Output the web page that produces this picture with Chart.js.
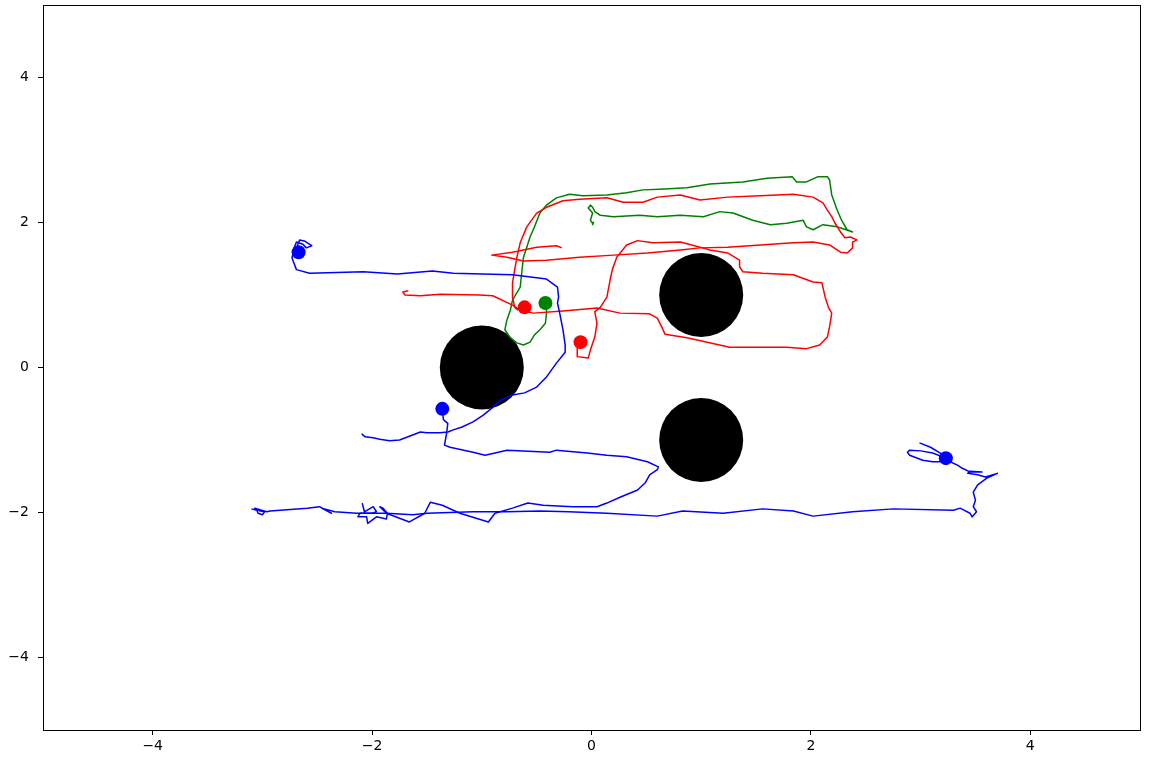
<!DOCTYPE html>
<html>
<head>
<meta charset="utf-8">
<script src="https://cdn.jsdelivr.net/npm/chart.js@4"></script>
<style>
  html, body { margin: 0; padding: 0; background: #fff; }
  canvas { display: block; }
</style>
</head>
<body>
<canvas id="trajChart" width="1150" height="766" style="width:1150px;height:766px"></canvas>
<script>
// axis ticks
const tickValues = [-4, -2, 0, 2, 4];

// obstacles (drawn as big markers)
const obstacles = [[-1, 0], [1, 1], [1, -1]];

// current positions
const blueDots = [[-2.67, 1.59], [-1.36, -0.57], [3.23, -1.25]];
const redDots = [[-0.61, 0.83], [-0.10, 0.35]];
const greenDots = [[-0.42, 0.89]];

// blue robot paths
const bluePathA = [[-2.67, 1.59], [-2.68, 1.69], [-2.66, 1.76], [-2.61, 1.74], [-2.59, 1.72], [-2.55, 1.68],
  [-2.60, 1.65], [-2.63, 1.70], [-2.69, 1.73], [-2.71, 1.65], [-2.73, 1.51], [-2.69, 1.35], [-2.57, 1.30],
  [-2.08, 1.32], [-1.77, 1.29], [-1.45, 1.33], [-1.26, 1.30], [-0.72, 1.28], [-0.41, 1.22], [-0.31, 1.11],
  [-0.30, 0.97], [-0.31, 0.89], [-0.29, 0.75], [-0.26, 0.52], [-0.24, 0.31], [-0.24, 0.21], [-0.32, 0.06],
  [-0.41, -0.13], [-0.50, -0.27], [-0.61, -0.35], [-0.72, -0.38], [-0.83, -0.45], [-0.90, -0.55],
  [-0.99, -0.66], [-1.08, -0.75], [-1.18, -0.82], [-1.26, -0.86], [-1.31, -0.89], [-1.38, -0.90],
  [-1.50, -0.90], [-1.56, -0.89], [-1.63, -0.93], [-1.75, -1.00], [-1.84, -1.01], [-1.93, -0.99],
  [-1.99, -0.97], [-2.05, -0.96], [-2.08, -0.94], [-2.09, -0.92], [-2.06, -0.96]];

const bluePathB = [[-1.36, -0.57], [-1.35, -0.72], [-1.31, -0.77], [-1.32, -0.90], [-1.34, -1.07],
  [-1.29, -1.10], [-1.08, -1.17], [-0.97, -1.21], [-0.77, -1.14], [-0.38, -1.17], [-0.32, -1.14],
  [-0.04, -1.18], [0.14, -1.21], [0.32, -1.23], [0.51, -1.30], [0.61, -1.37], [0.60, -1.41], [0.53, -1.48],
  [0.49, -1.59], [0.42, -1.69], [0.26, -1.79], [0.14, -1.87], [0.05, -1.92], [-0.17, -1.92], [-0.44, -1.90],
  [-0.58, -1.87], [-0.72, -1.94], [-0.88, -2.01], [-0.94, -2.13], [-1.20, -2.01], [-1.36, -1.90],
  [-1.47, -1.86], [-1.52, -2.01], [-1.66, -2.13], [-1.87, -2.01], [-1.93, -1.92], [-1.90, -1.94],
  [-1.86, -2.01], [-1.87, -2.09], [-1.96, -2.06], [-2.04, -2.15], [-2.05, -2.06], [-2.13, -2.06],
  [-2.11, -2.01], [-2.00, -2.01], [-1.96, -1.99], [-1.99, -1.92], [-2.07, -1.99], [-2.09, -1.87]];

const bluePathC = [[2.99, -1.04], [3.09, -1.10], [3.18, -1.18], [3.23, -1.25], [3.11, -1.18], [3.00, -1.15],
  [2.90, -1.14], [2.88, -1.17], [2.90, -1.21], [3.02, -1.28], [3.11, -1.30], [3.22, -1.30], [3.27, -1.30],
  [3.34, -1.35], [3.38, -1.39], [3.45, -1.44], [3.56, -1.44], [3.45, -1.43], [3.43, -1.46], [3.52, -1.48],
  [3.59, -1.51], [3.70, -1.46], [3.61, -1.52], [3.52, -1.62], [3.48, -1.72], [3.50, -1.83], [3.48, -1.92],
  [3.51, -1.99], [3.47, -2.06], [3.45, -2.01], [3.36, -1.94], [3.30, -1.97], [2.75, -1.95], [2.38, -1.99],
  [2.02, -2.05], [1.84, -1.98], [1.56, -1.95], [1.20, -2.01], [0.83, -1.98], [0.60, -2.05], [0.14, -2.01],
  [-0.21, -1.99], [-0.47, -1.98], [-0.77, -1.99], [-1.08, -1.99], [-1.50, -2.01], [-1.63, -2.03],
  [-1.87, -2.01], [-2.14, -2.01], [-2.34, -1.99], [-2.46, -1.94], [-2.37, -2.01], [-2.48, -1.92],
  [-2.59, -1.94], [-2.93, -1.98], [-2.96, -1.99], [-3.07, -1.94], [-3.02, -1.98], [-2.98, -1.99],
  [-3.00, -2.03], [-3.04, -2.01], [-3.05, -1.97], [-3.10, -1.95]];

// red robot paths
const redPathA = [[-0.10, 0.35], [-0.13, 0.28], [-0.13, 0.15], [-0.03, 0.13], [-0.01, 0.24], [0.03, 0.42],
  [0.05, 0.61], [0.03, 0.77], [0.08, 0.83], [0.14, 0.97], [0.17, 1.21], [0.19, 1.35], [0.23, 1.52],
  [0.32, 1.69], [0.42, 1.75], [0.56, 1.72], [0.81, 1.73], [0.99, 1.66], [1.08, 1.62], [1.24, 1.58],
  [1.35, 1.48], [1.35, 1.39], [1.38, 1.32], [1.56, 1.30], [1.84, 1.28], [2.02, 1.18], [2.10, 1.17],
  [2.13, 0.97], [2.16, 0.83], [2.19, 0.75], [2.17, 0.56], [2.15, 0.42], [2.08, 0.31], [1.96, 0.26],
  [1.78, 0.28], [1.63, 0.28], [1.26, 0.28], [0.87, 0.41], [0.67, 0.46], [0.64, 0.56], [0.60, 0.68],
  [0.53, 0.74], [0.26, 0.75], [0.05, 0.82], [-0.26, 0.78], [-0.53, 0.75], [-0.65, 0.79], [-0.72, 0.86],
  [-0.90, 0.99], [-1.02, 1.00], [-1.38, 1.01], [-1.56, 0.99], [-1.70, 1.00], [-1.72, 1.04], [-1.67, 1.06]];

const redPathB = [[-0.67, 0.79], [-0.70, 0.83], [-0.72, 0.97], [-0.72, 1.17], [-0.70, 1.35], [-0.68, 1.52],
  [-0.65, 1.72], [-0.59, 1.94], [-0.50, 2.13], [-0.41, 2.21], [-0.26, 2.30], [-0.11, 2.32], [0.14, 2.34],
  [0.29, 2.28], [0.47, 2.28], [0.60, 2.35], [0.81, 2.38], [0.99, 2.31], [1.24, 2.35], [1.54, 2.37],
  [1.84, 2.39], [2.02, 2.35], [2.11, 2.27], [2.15, 2.17], [2.19, 2.08], [2.22, 1.99], [2.27, 1.87],
  [2.31, 1.79], [2.36, 1.80], [2.42, 1.76], [2.38, 1.73], [2.38, 1.65], [2.33, 1.58], [2.27, 1.59],
  [2.17, 1.69], [2.02, 1.73], [1.84, 1.72], [1.54, 1.69], [1.24, 1.66], [0.99, 1.65], [0.81, 1.62],
  [0.51, 1.58], [0.20, 1.55], [-0.11, 1.52], [-0.41, 1.48], [-0.62, 1.47], [-0.77, 1.52], [-0.91, 1.55],
  [-0.72, 1.59], [-0.50, 1.66], [-0.32, 1.68], [-0.27, 1.65]];

// green robot path
const greenPath = [[-0.41, 0.89], [-0.41, 0.75], [-0.42, 0.61], [-0.47, 0.52], [-0.52, 0.45], [-0.56, 0.35],
  [-0.62, 0.31], [-0.68, 0.34], [-0.74, 0.41], [-0.79, 0.52], [-0.77, 0.66], [-0.74, 0.79], [-0.72, 0.93],
  [-0.65, 1.11], [-0.63, 1.39], [-0.62, 1.52], [-0.59, 1.66], [-0.56, 1.80], [-0.52, 1.94], [-0.47, 2.13],
  [-0.41, 2.24], [-0.32, 2.34], [-0.20, 2.39], [-0.08, 2.37], [0.14, 2.38], [0.32, 2.41], [0.47, 2.45],
  [0.62, 2.46], [0.87, 2.48], [1.08, 2.53], [1.38, 2.56], [1.60, 2.61], [1.83, 2.63], [1.87, 2.56],
  [1.96, 2.56], [2.06, 2.63], [2.15, 2.63], [2.17, 2.59], [2.19, 2.38], [2.24, 2.17], [2.28, 2.03],
  [2.33, 1.90], [2.38, 1.87], [2.28, 1.92], [2.24, 1.94], [2.11, 1.97], [2.02, 1.90], [1.96, 1.94],
  [1.93, 2.03], [1.78, 1.99], [1.63, 1.97], [1.47, 2.03], [1.29, 2.13], [1.17, 2.15], [1.02, 2.08],
  [0.81, 2.10], [0.60, 2.08], [0.44, 2.10], [0.32, 2.09], [0.20, 2.08], [0.08, 2.10], [0.03, 2.15],
  [0.01, 2.21], [-0.01, 2.24], [-0.03, 2.20], [0.01, 2.13], [-0.01, 2.03], [0.01, 1.99], [0.01, 1.97],
  [0.02, 2.01]];

function toPoints(arr) {
    return arr.map(p => ({ x: p[0], y: p[1] }));
}

function pathSet(arr, color) {
    return {
        data: toPoints(arr),
        showLine: true,
        borderColor: color,
        borderWidth: 1.5,
        borderJoinStyle: 'round',
        pointRadius: 0,
        fill: false,
        order: 2
    };
}

function dotSet(arr, color, radius, order) {
    return {
        data: toPoints(arr),
        showLine: false,
        pointRadius: radius,
        pointBackgroundColor: color,
        pointBorderWidth: 0,
        order: order
    };
}

function tickLabel(v) {
    return v < 0 ? '\u2212' + Math.abs(v) : String(v);
}

// frame around the plot area, like the matplotlib spines
const framePlugin = {
    id: 'frame',
    afterDraw(chart) {
        const a = chart.chartArea;
        const c = chart.ctx;
        c.save();
        c.strokeStyle = '#000';
        c.lineWidth = 1;
        c.strokeRect(Math.round(a.left) + 0.5, Math.round(a.top) + 0.5,
            Math.round(a.right - a.left), Math.round(a.bottom - a.top));
        c.restore();
    }
};

const axisFont = { family: 'DejaVu Sans', size: 14 };

function axisOptions(isX) {
    return {
        type: 'linear',
        min: -5,
        max: 5,
        afterBuildTicks: function(scale) {
            scale.ticks = tickValues.map(v => ({ value: v }));
        },
        afterFit: function(scale) {
            // fixed axis sizes, no extra label padding
            if (isX) {
                scale.height = 36;
            } else {
                scale.width = 43;
            }
            scale.paddingTop = 0;
            scale.paddingBottom = 0;
            scale.paddingLeft = 0;
            scale.paddingRight = 0;
        },
        grid: {
            display: true,
            drawOnChartArea: false,
            drawTicks: true,
            tickLength: 5,
            color: '#000',
            lineWidth: 1
        },
        border: { display: true, color: '#000', width: 1 },
        ticks: {
            color: '#000',
            font: axisFont,
            padding: isX ? 3 : 9,
            autoSkip: false,
            maxRotation: 0,
            callback: tickLabel
        }
    };
}

document.addEventListener('DOMContentLoaded', function() {
    const ctx = document.getElementById('trajChart');
    new Chart(ctx, {
        type: 'scatter',
        data: {
            datasets: [
                dotSet(obstacles, '#000000', 42, 3),
                pathSet(bluePathA, '#0000ff'),
                pathSet(bluePathB, '#0000ff'),
                pathSet(bluePathC, '#0000ff'),
                pathSet(redPathA, '#ff0000'),
                pathSet(redPathB, '#ff0000'),
                pathSet(greenPath, '#008000'),
                dotSet(blueDots, '#0000ff', 7, 1),
                dotSet(redDots, '#ff0000', 7, 1),
                dotSet(greenDots, '#008000', 7, 1)
            ]
        },
        options: {
            responsive: false,
            animation: false,
            events: [],
            layout: {
                autoPadding: false,
                padding: { top: 5, right: 10, left: 0, bottom: 0 }
            },
            plugins: {
                legend: { display: false },
                tooltip: { enabled: false }
            },
            scales: {
                x: axisOptions(true),
                y: axisOptions(false)
            }
        },
        plugins: [framePlugin]
    });
});
</script>
</body>
</html>
